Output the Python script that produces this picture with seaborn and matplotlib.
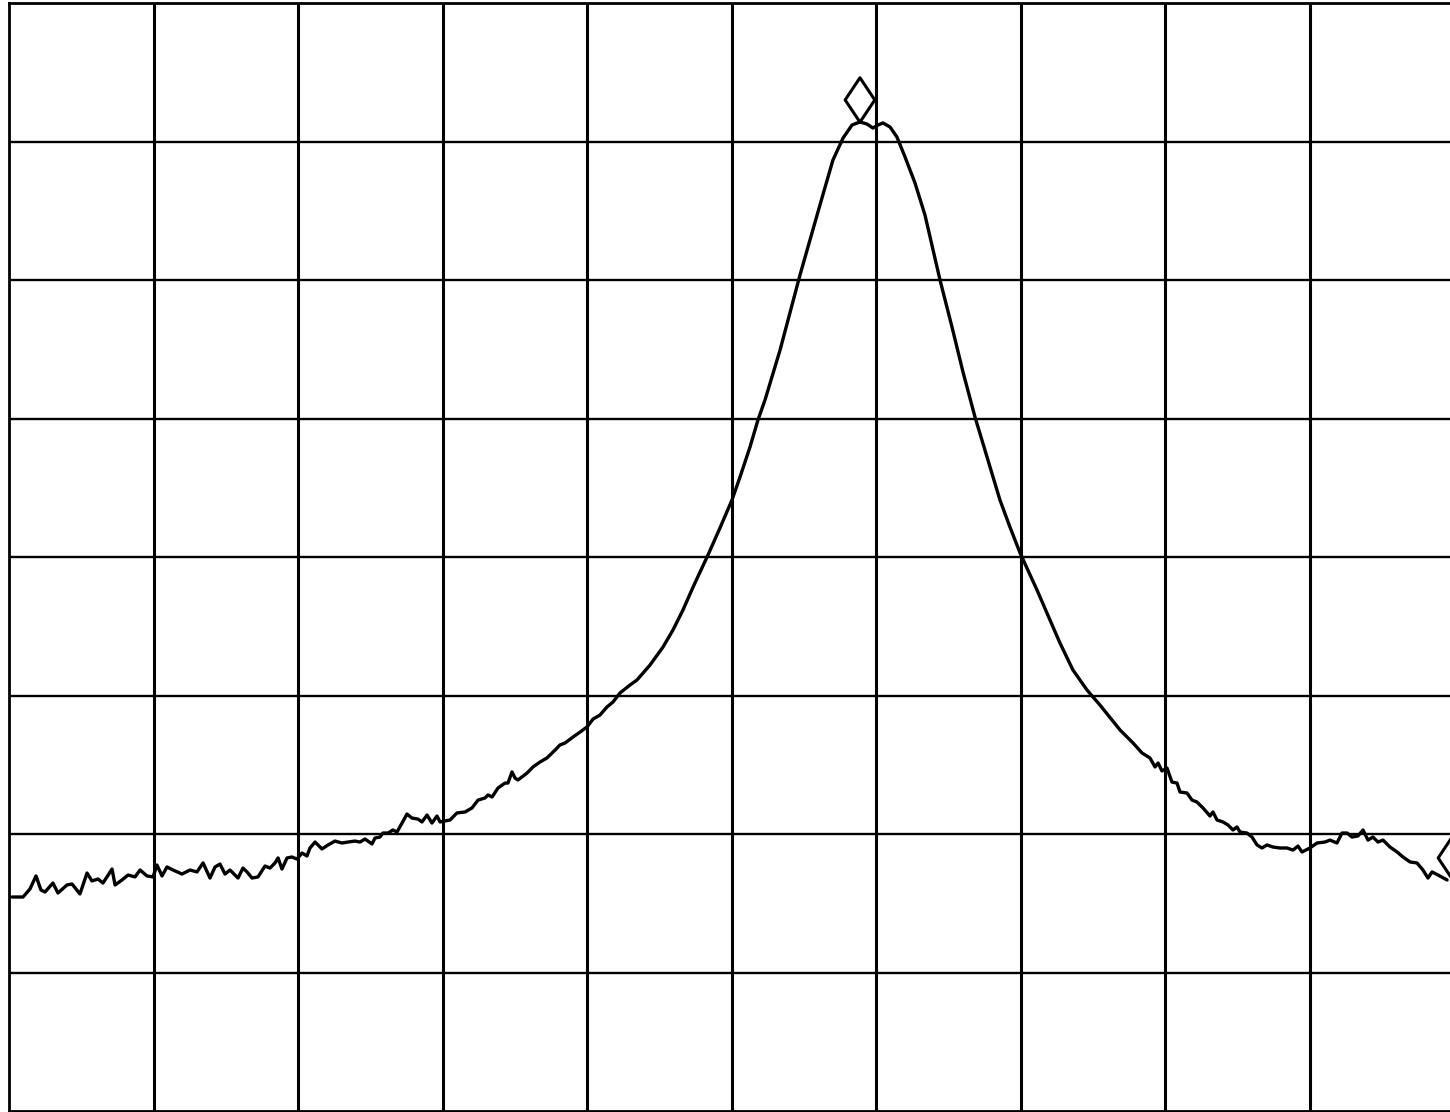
import matplotlib
matplotlib.use("Agg")
import matplotlib.pyplot as plt
import seaborn as sns
import pandas as pd
from matplotlib.path import Path

# Trace: x in horizontal divisions (0-10), level in vertical divisions (0-8)
trace_x = [
    0.021, 0.097, 0.145, 0.187, 0.221, 0.249, 0.304, 0.339, 0.401, 0.436,
    0.491, 0.540, 0.574, 0.616, 0.650, 0.678, 0.713, 0.734, 0.782, 0.824,
    0.872, 0.907, 0.955, 0.997, 1.024, 1.059, 1.093, 1.135, 1.197, 1.253,
    1.301, 1.343, 1.391, 1.426, 1.460, 1.495, 1.529, 1.585, 1.619, 1.647,
    1.682, 1.723, 1.772, 1.806, 1.841, 1.862, 1.889, 1.924, 1.958, 1.993,
    2.028, 2.062, 2.083, 2.118, 2.166, 2.208, 2.256, 2.304, 2.346, 2.394,
    2.429, 2.464, 2.512, 2.533, 2.567, 2.588, 2.623, 2.657, 2.685, 2.720,
    2.754, 2.789, 2.830, 2.858, 2.893, 2.927, 2.962, 2.983, 3.052, 3.100,
    3.156, 3.204, 3.246, 3.294, 3.315, 3.343, 3.384, 3.433, 3.453, 3.481,
    3.502, 3.522, 3.585, 3.626, 3.675, 3.723, 3.779, 3.813, 3.848, 3.903,
    3.952, 4.000, 4.042, 4.090, 4.138, 4.180, 4.228, 4.298, 4.346, 4.436,
    4.526, 4.595, 4.664, 4.734, 4.837, 4.920, 5.003, 5.059, 5.128, 5.183,
    5.232, 5.336, 5.474, 5.612, 5.702, 5.772, 5.834, 5.889, 5.938, 5.979,
    6.014, 6.048, 6.097, 6.145, 6.201, 6.270, 6.339, 6.443, 6.526, 6.602, 6.685,
    6.789, 6.858, 6.927, 6.997, 7.114, 7.183, 7.273, 7.363, 7.460, 7.550,
    7.689, 7.779, 7.841, 7.896, 7.931, 7.952, 7.979, 8.014, 8.048, 8.083,
    8.104, 8.152, 8.187, 8.221, 8.263, 8.311, 8.332, 8.360, 8.401, 8.436,
    8.471, 8.498, 8.519, 8.567, 8.602, 8.637, 8.671, 8.706, 8.747, 8.796,
    8.844, 8.886, 8.920, 8.948, 9.003, 9.052, 9.107, 9.142, 9.190, 9.225,
    9.260, 9.294, 9.336, 9.370, 9.405, 9.439, 9.474, 9.509, 9.557, 9.606,
    9.647, 9.696, 9.744, 9.785, 9.820, 9.848, 9.889, 9.952,
]
trace_level = [
    1.545, 1.545, 1.603, 1.697, 1.596, 1.581, 1.646, 1.574, 1.632, 1.639,
    1.567, 1.718, 1.661, 1.675, 1.646, 1.690, 1.747, 1.632, 1.668, 1.704,
    1.690, 1.740, 1.697, 1.690, 1.776, 1.697, 1.762, 1.740, 1.711, 1.740,
    1.726, 1.791, 1.682, 1.762, 1.783, 1.711, 1.740, 1.682, 1.754, 1.726,
    1.682, 1.690, 1.769, 1.754, 1.791, 1.827, 1.747, 1.827, 1.834, 1.819,
    1.863, 1.841, 1.899, 1.942, 1.892, 1.921, 1.949, 1.935, 1.942, 1.949,
    1.942, 1.964, 1.928, 1.971, 1.978, 2.007, 2.007, 2.029, 2.014, 2.079,
    2.144, 2.115, 2.108, 2.087, 2.137, 2.079, 2.130, 2.087, 2.101, 2.152,
    2.159, 2.188, 2.245, 2.260, 2.282, 2.267, 2.332, 2.368, 2.368, 2.448,
    2.404, 2.390, 2.440, 2.484, 2.520, 2.549, 2.606, 2.643, 2.657, 2.700,
    2.736, 2.773, 2.830, 2.859, 2.917, 2.953, 3.018, 3.076, 3.112, 3.220,
    3.350, 3.473, 3.617, 3.783, 4.014, 4.209, 4.411, 4.578, 4.794, 4.989,
    5.134, 5.494, 6.036, 6.541, 6.866, 7.025, 7.119, 7.141, 7.126, 7.097,
    7.119, 7.134, 7.105, 7.032, 6.888, 6.700, 6.469, 6.000, 5.660, 5.336, 5.011,
    4.650, 4.411, 4.216, 4.029, 3.762, 3.596, 3.379, 3.184, 3.040, 2.931,
    2.751, 2.657, 2.585, 2.549, 2.484, 2.513, 2.455, 2.476, 2.375, 2.368,
    2.303, 2.296, 2.245, 2.231, 2.188, 2.130, 2.159, 2.101, 2.087, 2.065,
    2.029, 2.051, 2.014, 2.007, 1.978, 1.921, 1.899, 1.921, 1.906, 1.899,
    1.899, 1.884, 1.913, 1.870, 1.899, 1.935, 1.942, 1.956, 1.935, 2.007,
    2.007, 1.978, 1.986, 2.029, 1.956, 1.978, 1.942, 1.956, 1.906, 1.870,
    1.834, 1.798, 1.791, 1.740, 1.682, 1.726, 1.704, 1.668,
]

# Marker symbols (diamonds drawn just above the marked trace points)
marker_x = [5.889, 9.993]
marker_level = [7.300, 1.827]

n_hdiv = 10
n_vdiv = 8

sns.set_style("white")

df = pd.DataFrame({"x": trace_x, "level": trace_level})
mk = pd.DataFrame({"x": marker_x, "level": marker_level})

diamond = Path([(0, 1), (0.667, 0), (0, -1), (-0.667, 0), (0, 1)],
               [Path.MOVETO, Path.LINETO, Path.LINETO, Path.LINETO, Path.CLOSEPOLY])

fig = plt.figure(figsize=(14.5, 11.12), dpi=100)
ax = fig.add_axes([9 / 1450, 1 / 1112, 1445 / 1450, 1108 / 1112])

sns.lineplot(data=df, x="x", y="level", ax=ax, color="black", linewidth=2.4,
             sort=False, estimator=None, zorder=3)
sns.scatterplot(data=mk, x="x", y="level", ax=ax, marker=diamond, s=32 ** 2,
                facecolor="none", edgecolor="black", linewidth=2.2, zorder=4,
                clip_on=False)

ax.set_xlim(0, n_hdiv)
ax.set_ylim(0, n_vdiv)
ax.set_xticks(range(n_hdiv + 1))
ax.set_yticks(range(n_vdiv + 1))
ax.tick_params(length=0, labelbottom=False, labelleft=False)
ax.set_xlabel("")
ax.set_ylabel("")
for v in range(1, n_hdiv):
    ax.axvline(v, color="black", linewidth=2.2, zorder=1)
for h in range(1, n_vdiv):
    ax.axhline(h, color="black", linewidth=1.7, zorder=1)
for s in ax.spines.values():
    s.set_color("black")
    s.set_linewidth(2.0)

fig.savefig("out.png", dpi=100, facecolor="white")
